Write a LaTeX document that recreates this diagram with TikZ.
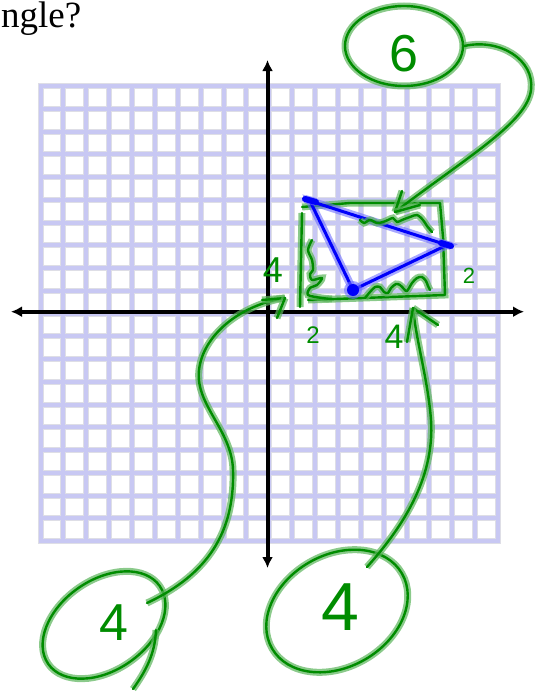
\documentclass[tikz,border=0pt]{standalone}
\usepackage{fontspec}
\setmainfont{Liberation Serif}
\newfontfamily\handfont{Liberation Sans}
\usetikzlibrary{arrows.meta,shapes.geometric}
\definecolor{gridc}{RGB}{200,200,243}
\definecolor{gridedge}{RGB}{222,222,230}
\definecolor{gcore}{RGB}{0,140,0}
\definecolor{ghalo}{RGB}{90,180,90}
\definecolor{bcore}{RGB}{0,0,250}
\definecolor{bhalo}{RGB}{110,110,255}
\tikzset{
  gpen/.style={draw=gcore, line width=2.4pt, line cap=round, line join=round,
    preaction={draw=ghalo, line width=7pt, opacity=0.7}},
  bpen/.style={draw=bcore, line width=3pt, line cap=round, line join=round,
    preaction={draw=bhalo, line width=8pt, opacity=0.6}},
  hand/.style={text=gcore, inner sep=0pt, font=\handfont\fontsize{#1}{#1}\selectfont},
  gridline/.style={draw=gridc, line width=4pt, line cap=rect},
  gridshade/.style={draw=gridedge, line width=6pt, line cap=rect},
  axisline/.style={draw=black, line width=4pt,
    {Latex[length=11pt,width=11pt]}-{Latex[length=11pt,width=11pt]}},
  loop/.style={ellipse, gpen, inner sep=0pt},
}
\begin{document}
\begin{tikzpicture}[x=1pt,y=-1pt]
\useasboundingbox (0,0) rectangle (536,693);
% title fragment
\node[font=\fontsize{37}{38}\selectfont, anchor=base west, inner sep=0pt] (title) at (1,28) {ngle?};
% grid
\foreach \i in {0,...,20} {\draw[gridshade] ({40.5+22.875*\i},86) -- ({40.5+22.875*\i},541);}
\foreach \j in {0,...,20} {\draw[gridshade] (40.5,{86+22.75*\j}) -- (498,{86+22.75*\j});}
\foreach \i in {0,...,20} {\draw[gridline] ({40.5+22.875*\i},86) -- ({40.5+22.875*\i},541);}
\foreach \j in {0,...,20} {\draw[gridline] (40.5,{86+22.75*\j}) -- (498,{86+22.75*\j});}
% axes
\coordinate (yT) at (267.5,60);
\coordinate (yB) at (267.5,568);
\coordinate (xL) at (11,311.7);
\coordinate (xR) at (524,311.7);
\draw[axisline] (yB) -- (yT);
\draw[axisline] (xL) -- (xR);
% green rectangle
\draw[gpen] (302,207) -- (350,203) -- (440,203) -- (443,237) -- (445,295) -- (308,300);
\draw[gpen] (302,213) -- (300,307);
% blue triangle
\coordinate (A) at (310,201);
\coordinate (B) at (447,245);
\coordinate (C) at (353,290);
\draw[bpen] (A) -- (B) -- (C) -- cycle;
\draw[bpen, line width=6pt] (305,199) -- (316,202);
\draw[bpen, line width=6pt] (441,243) -- (451,246);
\fill[bhalo, opacity=0.6] (C) circle (9);
\fill[bcore] (C) circle (6);
% squiggles
\draw[gpen] plot[smooth] coordinates {(360,220) (364,223) (370,220) (377,223) (383,222) (388,220) (393,218) (397,222) (402,220) (410,217) (417,215) (423,220) (427,226) (432,232)};
\draw[gpen] plot[smooth] coordinates {(365,298) (370,292) (375,287) (380,287) (384,292) (388,293) (391,288) (396,284) (400,285) (404,289) (407,291) (412,283) (417,278) (422,277) (426,281) (428,286) (430,290)};
\draw[gpen] plot[smooth] coordinates {(312,240) (308,250) (312,260) (313,270) (310,274) (312,280) (322,278) (317,285) (310,288) (308,295) (322,298) (332,299)};
% small labels
\node[hand=36] (l4a) at (273,270) {4};
\node[hand=24] (l2a) at (313,335) {2};
\node[hand=34] (l4b) at (394,337) {4};
\node[hand=22] (l2b) at (469,276) {2};
% circled numbers
\node[loop, minimum width=118pt, minimum height=80pt] (c6) at (404,46) {};
\node[hand=52] (six) at (404,54) {6};
\node[loop, minimum width=136pt, minimum height=90pt, rotate=35] (c4l) at (104,625) {};
\node[hand=52] (fourL) at (114,623) {4};
\node[loop, minimum width=150pt, minimum height=112pt, rotate=30] (c4r) at (337,611) {};
\node[hand=68] (fourR) at (340,607) {4};
\draw[gpen] (156,630) .. controls (155,655) and (145,672) .. (133,689);
% connectors
\coordinate (t6) at (395,212);
\draw[gpen] (c6.east) .. controls (500,38) and (535,60) .. (531,90) .. controls (527,122) and (470,155) .. (t6);
\draw[gpen] (t6) -- (402,191);
\draw[gpen] (t6) -- (420,205);
\coordinate (s4l) at (147,603);
\coordinate (t4l) at (285,298);
\draw[gpen] (s4l) .. controls (200,578) and (235,540) .. (233,470) .. controls (232,430) and (195,405) .. (199,370) .. controls (203,335) and (240,305) .. (t4l);
\draw[gpen] (t4l) -- (262,300);
\draw[gpen] (t4l) -- (277,318);
\coordinate (s4r) at (367,567);
\coordinate (t4r) at (413,308);
\draw[gpen] (s4r) .. controls (400,530) and (435,480) .. (431,420) .. controls (428,380) and (416,340) .. (t4r);
\draw[gpen] (t4r) -- (438,325);
\draw[gpen] (t4r) -- (407,342);
\end{tikzpicture}
\end{document}
